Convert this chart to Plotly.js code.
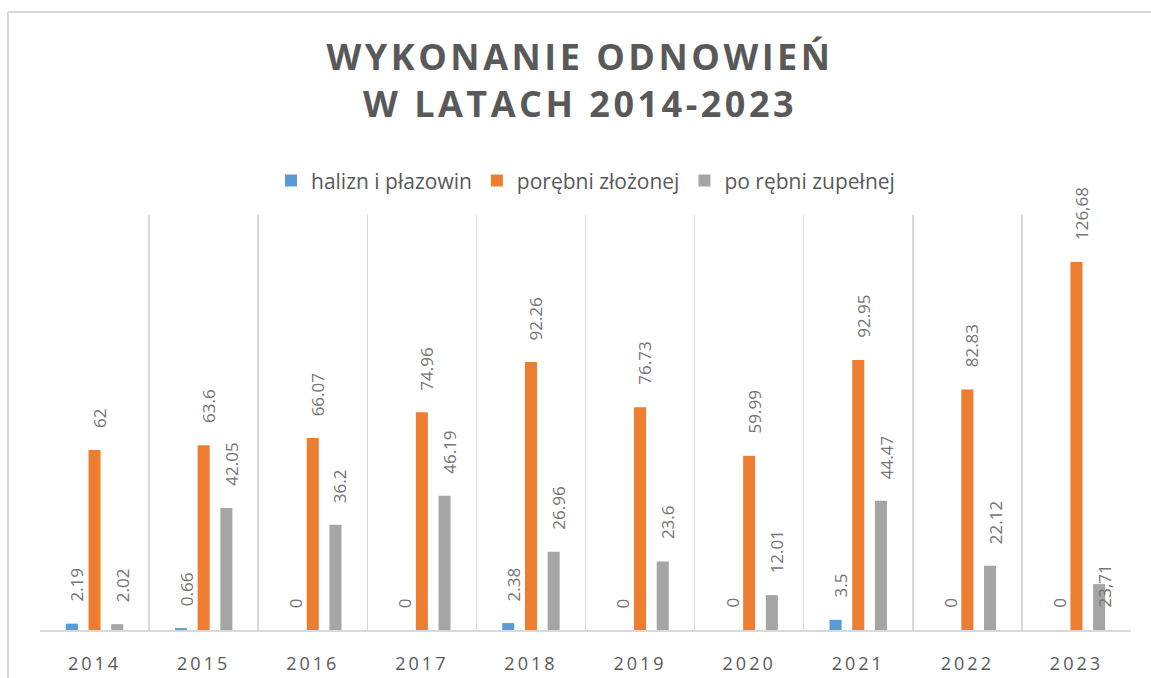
<!DOCTYPE html>
<html>
<head>
<meta charset="utf-8">
<script src="https://cdn.plot.ly/plotly-3.0.1.min.js"></script>
<style>
  html, body { margin: 0; padding: 0; background: #fff; overflow: hidden; }
  #chart { width: 1151px; height: 678px; }
  .gtitle { letter-spacing: 3.5px; }
  .xtick text { letter-spacing: 3px; }
</style>
</head>
<body>
<div id="chart"></div>
<script>
// ---- data ----
const years = ['2014','2015','2016','2017','2018','2019','2020','2021','2022','2023'];
const seriesNames = ['halizn i płazowin', 'porębni złożonej', 'po rębni zupełnej'];
const halizn  = [2.19, 0.66, 0, 0, 2.38, 0, 0, 3.5, 0, 0];
const porebni = [62, 63.6, 66.07, 74.96, 92.26, 76.73, 59.99, 92.95, 82.83, 126.68];
const porebniZupelnej = [2.02, 42.05, 36.2, 46.19, 26.96, 23.6, 12.01, 44.47, 22.12, 15.8];
const haliznLabels  = ['2.19','0.66','0','0','2.38','0','0','3.5','0','0'];
const porebniLabels = ['62','63.6','66.07','74.96','92.26','76.73','59.99','92.95','82.83','126,68'];
const zupelnejLabels = ['2.02','42.05','36.2','46.19','26.96','23.6','12.01','44.47','22.12','23,71'];
const colors = ['#5B9BD5', '#ED7D31', '#A5A5A5'];

const values = [halizn, porebni, porebniZupelnej];
const labels = [haliznLabels, porebniLabels, zupelnejLabels];

const traces = values.map((v, s) => ({
  type: 'bar',
  name: seriesNames[s],
  x: years,
  y: v,
  marker: { color: colors[s] },
  hoverinfo: 'skip'
}));

// data labels (rotated), placed above each bar
const slot = 22.6; // pixel spacing between bars in a group
const annotations = [];
values.forEach((v, s) => {
  v.forEach((val, i) => {
    // the 2023 "po rębni zupełnej" label sits low, overlapping its bar, in the source
    const anchorVal = (s === 2 && i === 9) ? 0 : val;
    annotations.push({
      x: i, y: anchorVal, xref: 'x', yref: 'y',
      text: labels[s][i],
      showarrow: false,
      textangle: -90,
      xanchor: 'center', yanchor: 'bottom',
      xshift: (s - 1) * slot + 5,
      yshift: 20,
      font: { family: 'Open Sans, sans-serif', size: 17, color: '#757575' }
    });
  });
});

const frame = { color: '#D9D9D9', width: 2 };
const layout = {
  width: 1151, height: 678,
  margin: { l: 40, r: 20, t: 215, b: 48 },
  paper_bgcolor: '#ffffff', plot_bgcolor: '#ffffff',
  title: {
    text: 'WYKONANIE ODNOWIEŃ<br>W LATACH 2014-2023',
    font: { family: 'Open Sans, sans-serif', size: 36, color: '#595959', weight: 700 },
    x: 0.495, xanchor: 'center', xref: 'paper',
    y: 0.897, yanchor: 'middle', yref: 'container'
  },
  barmode: 'group',
  bargap: 0.376,
  bargroupgap: 0.47,
  showlegend: true,
  legend: {
    orientation: 'h', x: 0.5, xanchor: 'center', y: 1.082, yanchor: 'middle',
    font: { family: 'Open Sans, sans-serif', size: 21, color: '#595959' },
    traceorder: 'normal'
  },
  xaxis: {
    type: 'category',
    range: [-0.5, 9.5],
    tickson: 'boundaries',
    showgrid: true, gridcolor: '#D9D9D9', gridwidth: 1.5,
    showline: true, linecolor: '#D9D9D9', linewidth: 2,
    ticks: '', ticklen: 0,
    ticklabelstandoff: 16,
    tickfont: { family: 'Open Sans, sans-serif', size: 18, color: '#595959' },
    zeroline: false, fixedrange: true
  },
  yaxis: {
    range: [0, 142.9],
    visible: false, showgrid: false, zeroline: false, fixedrange: true
  },
  annotations: annotations,
  shapes: [
    { type: 'line', xref: 'paper', yref: 'paper', x0: (8 - 40) / 1091, x1: (8 - 40) / 1091, y0: (630 - 12) / 415, y1: (630 - 700) / 415, line: frame },
    { type: 'line', xref: 'paper', yref: 'paper', x0: (8 - 40) / 1091, x1: (1170 - 40) / 1091, y0: (630 - 12) / 415, y1: (630 - 12) / 415, line: frame }
  ]
};

Plotly.newPlot('chart', traces, layout, { displayModeBar: false, staticPlot: true });
</script>
</body>
</html>
